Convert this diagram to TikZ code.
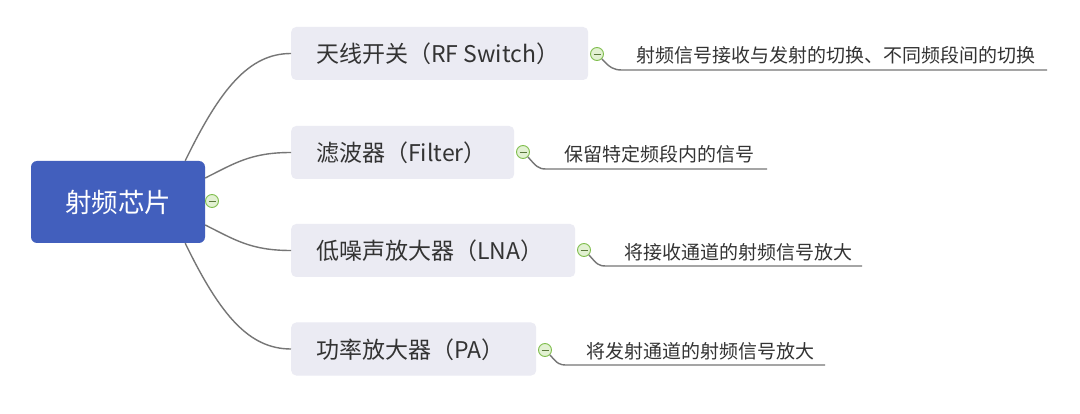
\documentclass[tikz,border=0pt]{standalone}
\usepackage{fontspec}
\setmainfont{Noto Sans CJK SC}
\usetikzlibrary{calc}
\definecolor{rootblue}{RGB}{66,95,189}
\definecolor{branchbg}{RGB}{235,235,243}
\definecolor{linegray}{RGB}{118,118,118}
\definecolor{txt}{RGB}{51,51,51}
\definecolor{cgreen}{RGB}{128,190,78}
\definecolor{cfill}{RGB}{226,241,210}
\definecolor{cminus}{RGB}{90,120,60}
\begin{document}
\begin{tikzpicture}[x=1pt,y=-1pt,
  rootbox/.style={fill=rootblue, rounded corners=6pt, inner sep=0, minimum width=174pt, minimum height=82pt, text=white, font=\fontsize{26.5}{30}\selectfont},
  branchbox/.style={fill=branchbg, rounded corners=5pt, inner sep=0, minimum height=53pt, anchor=west},
  branchtext/.style={text=txt, inner sep=0, anchor=west, font=\fontsize{23}{27}\selectfont},
  leaftext/.style={text=txt, inner sep=0, anchor=west, font=\fontsize{19}{23}\selectfont},
  conn/.style={draw=linegray, line width=1.4pt},
  collapse/.style={circle, draw=cgreen, fill=cfill, line width=0.9pt, minimum size=13pt, inner sep=0},
]
\fill[white] (0,0) rectangle (1080,414);
\useasboundingbox (0,0) rectangle (1080,414);

% root
\node[rootbox] (root) at (118,202) {射频芯片};

% branch boxes
\node[branchbox, minimum width=297pt] (b1) at (291,53.5) {};
\node[branchbox, minimum width=223pt] (b2) at (291,152.5) {};
\node[branchbox, minimum width=284pt] (b3) at (291,250.5) {};
\node[branchbox, minimum width=245pt] (b4) at (291,349) {};

\node[branchtext] (t1) at (316,54) {天线开关（RF Switch）};
\node[branchtext] (t2) at (316,153) {滤波器（Filter）};
\node[branchtext] (t3) at (316,251) {低噪声放大器（LNA）};
\node[branchtext] (t4) at (316,350) {功率放大器（PA）};

% connectors root -> branches
\draw[conn] ($(root.north east)+(-20,0)$) .. controls +(35,-72) and +(-42,0) .. (b1.west);
\draw[conn] ($(root.east)+(0,-24)$) .. controls +(30,-15) and +(-40,0) .. (b2.west);
\draw[conn] ($(root.east)+(0,23)$) .. controls +(30,15) and +(-40,0) .. (b3.west);
\draw[conn] ($(root.south east)+(-20,0)$) .. controls +(35,72) and +(-42,0) .. (b4.west);

% collapse circles
\node[collapse] (rc) at (212,201) {};
\node[collapse] (c1) at (597,54) {};
\node[collapse] (c2) at (523,152) {};
\node[collapse] (c3) at (584,250) {};
\node[collapse] (c4) at (545,350) {};
\foreach \c in {rc,c1,c2,c3,c4}{
  \draw[cminus, line width=0.9pt] ($(\c)+(-3.5,0)$) -- ($(\c)+(3.5,0)$);
}

% leaf coordinates
\coordinate (u1s) at (622,70);  \coordinate (u1e) at (1047,70);
\coordinate (u2s) at (546,169); \coordinate (u2e) at (767,169);
\coordinate (u3s) at (606,266); \coordinate (u3e) at (862,266);
\coordinate (u4s) at (567,365); \coordinate (u4e) at (825,365);

\draw[conn] (c1.south east) .. controls +(8,9) and +(-8,0) .. (u1s) -- (u1e);
\draw[conn] (c2.south east) .. controls +(8,9) and +(-8,0) .. (u2s) -- (u2e);
\draw[conn] (c3.south east) .. controls +(8,9) and +(-8,0) .. (u3s) -- (u3e);
\draw[conn] (c4.south east) .. controls +(8,9) and +(-8,0) .. (u4s) -- (u4e);

% leaf texts
\node[leaftext] (l1) at (636,55) {射频信号接收与发射的切换、不同频段间的切换};
\node[leaftext] (l2) at (564,154) {保留特定频段内的信号};
\node[leaftext] (l3) at (624,252) {将接收通道的射频信号放大};
\node[leaftext] (l4) at (586,351) {将发射通道的射频信号放大};
\end{tikzpicture}
\end{document}
